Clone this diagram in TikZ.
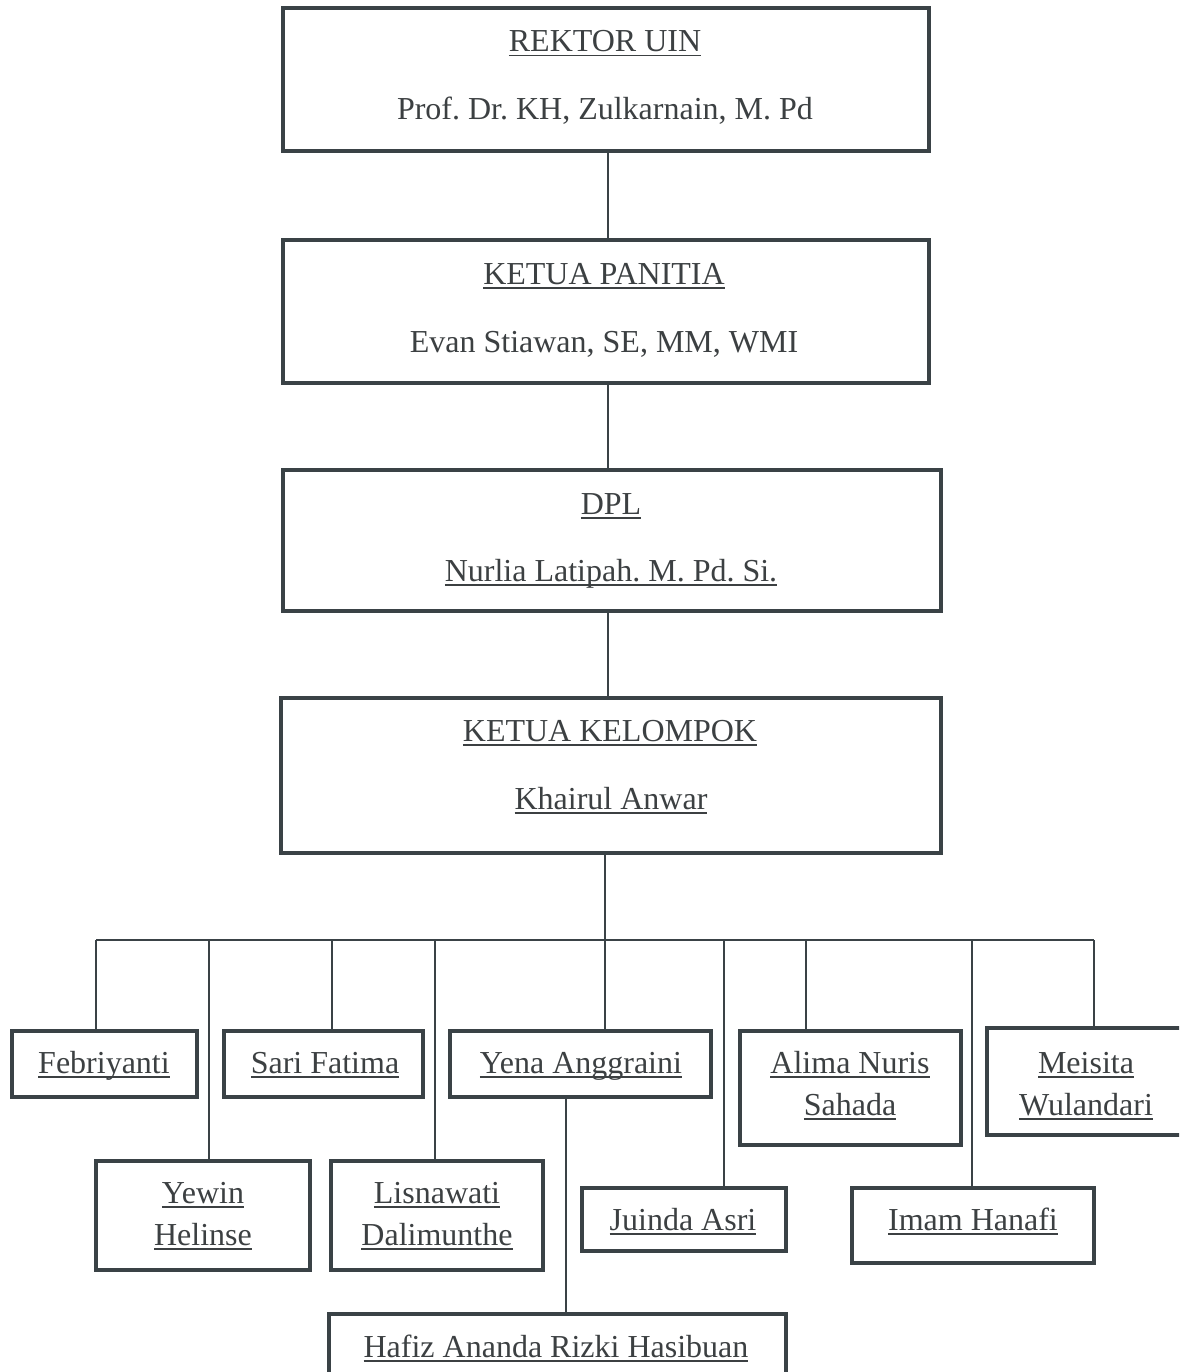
\documentclass[tikz,border=0pt]{standalone}
\usepackage{fontspec}
\setmainfont{Liberation Serif}
\frenchspacing
\definecolor{lc}{RGB}{58,66,70}
\definecolor{tc}{RGB}{60,64,66}
\newcommand\ulx[1]{\setbox0\hbox{#1}\rlap{\color{tc}\rule[-4.5pt]{\wd0}{1.6pt}}\box0}
\tikzset{
  box/.style={draw=lc, line width=4.5pt, rectangle, inner sep=0pt, fill=white},
  conn/.style={draw=lc, line width=2pt},
  txt/.style={anchor=base, inner sep=0pt, text=tc, font=\fontsize{32}{40}\selectfont\frenchspacing}
}
\newcommand\bx[5]{\node[box, minimum width={#4-#2}, minimum height={#5-#3}] (#1) at ({(#2+#4)/2},{(#3+#5)/2}) {};}
\begin{document}
\begin{tikzpicture}[x=1pt,y=-1pt]
\useasboundingbox (0,0) rectangle (1179,1372);
\clip (0,0) rectangle (1179,1372);
\fill[white] (0,0) rectangle (1179,1372);
% coordinates for connector positions
\coordinate (ax) at (608,0);
\coordinate (bus) at (605,940);
\coordinate (busL) at (96,940);
\coordinate (busR) at (1094,940);
\coordinate (dYew) at (209,940);
\coordinate (dSar) at (332,940);
\coordinate (dLis) at (435,940);
\coordinate (dJui) at (724,940);
\coordinate (dAli) at (806,940);
\coordinate (dIma) at (972,940);
\coordinate (dHaf) at (566,0);
% boxes
\bx{rek}{283}{8}{929}{151}
\bx{pan}{283}{240}{929}{383}
\bx{dpl}{283}{470}{941}{611}
\bx{kel}{281}{698}{941}{853}
\bx{feb}{12}{1031}{197}{1097}
\bx{sar}{224}{1031}{423}{1097}
\bx{yen}{450}{1031}{711}{1097}
\bx{ali}{740}{1031}{961}{1145}
\bx{mei}{987}{1028}{1195}{1135}
\bx{yew}{96}{1161}{310}{1270}
\bx{lis}{331}{1161}{543}{1270}
\bx{jui}{582}{1188}{786}{1251}
\bx{ima}{852}{1188}{1094}{1263}
\bx{haf}{329}{1314}{786}{1390}
% connectors
\draw[conn] (rek.south -| ax) -- (pan.north -| ax);
\draw[conn] (pan.south -| ax) -- (dpl.north -| ax);
\draw[conn] (dpl.south -| ax) -- (kel.north -| ax);
\draw[conn] (kel.south -| bus) -- (bus);
\draw[conn] (busL) -- (busR);
\draw[conn] (busL) -- (busL |- feb.north);
\draw[conn] (dYew) -- (dYew |- yew.north);
\draw[conn] (dSar) -- (dSar |- sar.north);
\draw[conn] (dLis) -- (dLis |- lis.north);
\draw[conn] (bus) -- (bus |- yen.north);
\draw[conn] (dJui) -- (dJui |- jui.north);
\draw[conn] (dAli) -- (dAli |- ali.north);
\draw[conn] (dIma) -- (dIma |- ima.north);
\draw[conn] (busR) -- (busR |- mei.north);
\draw[conn] (yen.south -| dHaf) -- (haf.north -| dHaf);
% texts
\node[txt] (t1) at (605,52) {\ulx{REKTOR UIN}};
\node[txt] (t2) at (605,120) {Prof. Dr. KH, Zulkarnain, M. Pd};
\node[txt] (t3) at (604,284) {\ulx{KETUA PANITIA}};
\node[txt] (t4) at (604,352) {Evan Stiawan, SE, MM, WMI};
\node[txt] (t5) at (611,514) {\ulx{DPL}};
\node[txt] (t6) at (611,581) {\ulx{Nurlia Latipah. M. Pd. Si.}};
\node[txt] (t7) at (610,741) {\ulx{KETUA KELOMPOK}};
\node[txt] (t8) at (611,809) {\ulx{Khairul Anwar}};
\node[txt] (t9) at (104,1073) {\ulx{Febriyanti}};
\node[txt] (t10) at (325,1073) {\ulx{Sari Fatima}};
\node[txt] (t11) at (581,1073) {\ulx{Yena Anggraini}};
\node[txt] (t12) at (850,1073) {\ulx{Alima Nuris}};
\node[txt] (t13) at (850,1115) {\ulx{Sahada}};
\node[txt] (t14) at (1086,1073) {\ulx{Meisita}};
\node[txt] (t15) at (1086,1115) {\ulx{Wulandari}};
\node[txt] (t16) at (203,1203) {\ulx{Yewin}};
\node[txt] (t17) at (203,1245) {\ulx{Helinse}};
\node[txt] (t18) at (437,1203) {\ulx{Lisnawati}};
\node[txt] (t19) at (437,1245) {\ulx{Dalimunthe}};
\node[txt] (t20) at (683,1230) {\ulx{Juinda Asri}};
\node[txt] (t21) at (973,1230) {\ulx{Imam Hanafi}};
\node[txt] (t22) at (556,1357) {\ulx{Hafiz Ananda Rizki Hasibuan}};
\end{tikzpicture}
\end{document}
